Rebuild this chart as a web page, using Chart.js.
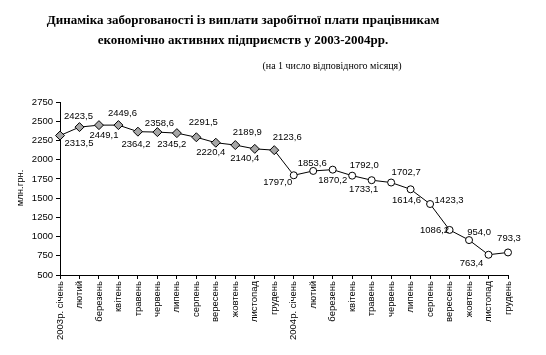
<!DOCTYPE html>
<html>
<head>
<meta charset="utf-8">
<script src="https://cdn.jsdelivr.net/npm/chart.js@4/dist/chart.umd.min.js"></script>
<style>
  html, body { margin: 0; padding: 0; background: #fff; }
  #wrap { width: 546px; height: 355px; }
</style>
</head>
<body>
<div id="wrap"><canvas id="c" width="546" height="355"></canvas></div>
<script>
const categories = [
  "2003р. січень", "лютий", "березень", "квітень", "травень", "червень",
  "липень", "серпень", "вересень", "жовтень", "листопад", "грудень",
  "2004р. січень", "лютий", "березень", "квітень", "травень", "червень",
  "липень", "серпень", "вересень", "жовтень", "листопад", "грудень"
];
const values2003 = [2313.5, 2423.5, 2449.1, 2449.6, 2364.2, 2358.6, 2345.2, 2291.5, 2220.4, 2189.9, 2140.4, 2123.6];
const values2004 = [1797.0, 1853.6, 1870.2, 1792.0, 1733.1, 1702.7, 1614.6, 1423.3, 1086.2, 954.0, 763.4, 793.3];
const yTicks = [500, 750, 1000, 1250, 1500, 1750, 2000, 2250, 2500, 2750];

const titleLines = [
  "Динаміка заборгованості із виплати заробітної плати працівникам",
  "економічно активних підприємств у 2003-2004рр."
];
const subtitleText = "(на 1 число відповідного місяця)";
const yAxisTitle = "млн.грн.";

// label offsets (dx, dy) relative to each point, in px
const labelOffsets = [
  [19, 8], [-1, -11], [5, 10], [4, -12], [-2, 13], [2, -9],
  [-5, 11], [7, -15], [-5, 10], [12, -13], [-10, 10], [13, -13],
  [-16, 7], [-1, -8], [0, 11], [12, -10], [-8, 9], [15, -10],
  [-4, 11], [19, -4], [-15, 0], [10, -8], [-17, 9], [1, -14]
];

const allValues = values2003.concat(values2004);
const pointStyles = allValues.map((v, i) => i < values2003.length ? 'rectRot' : 'circle');
const pointFills = allValues.map((v, i) => i < values2003.length ? '#a6a6a6' : '#ffffff');
const pointRadii = allValues.map((v, i) => i < values2003.length ? 4.5 : 3.5);

const sans = '"Liberation Sans", Arial, sans-serif';

function fmt(v) { return v.toFixed(1).replace('.', ','); }

const labelPlugin = {
  id: 'valueLabels',
  afterDatasetsDraw(chart) {
    const ctx = chart.ctx;
    const meta = chart.getDatasetMeta(0);
    ctx.save();
    ctx.font = '9.5px ' + sans;
    ctx.fillStyle = '#000';
    ctx.textAlign = 'center';
    ctx.textBaseline = 'middle';
    meta.data.forEach((el, i) => {
      const off = labelOffsets[i];
      ctx.fillText(fmt(allValues[i]), el.x + off[0], el.y + off[1]);
    });
    ctx.restore();
  }
};

const textPlugin = {
  id: 'titles',
  afterDraw(chart) {
    const ctx = chart.ctx;
    ctx.save();
    ctx.fillStyle = '#000';
    ctx.textAlign = 'center';
    ctx.textBaseline = 'middle';
    ctx.font = 'bold 13px "Liberation Serif", "Times New Roman", serif';
    ctx.fillText(titleLines[0], 243, 21);
    ctx.fillText(titleLines[1], 243, 41);
    ctx.font = '10px "Liberation Serif", "Times New Roman", serif';
    ctx.fillText(subtitleText, 332, 66);
    ctx.font = '9.5px ' + sans;
    ctx.translate(20, 188);
    ctx.rotate(-Math.PI / 2);
    ctx.fillText(yAxisTitle, 0, 0);
    ctx.restore();
  }
};

new Chart(document.getElementById('c'), {
  type: 'line',
  data: {
    labels: categories,
    datasets: [{
      data: allValues,
      borderColor: '#000',
      borderWidth: 1,
      tension: 0,
      fill: false,
      pointStyle: pointStyles,
      pointBackgroundColor: pointFills,
      pointBorderColor: '#000',
      pointBorderWidth: 1,
      pointRadius: pointRadii,
      clip: false
    }]
  },
  options: {
    responsive: false,
    animation: false,
    events: [],
    layout: { padding: { top: 102, right: 38, left: 0, bottom: 0 } },
    plugins: { legend: { display: false }, tooltip: { enabled: false }, title: { display: false } },
    scales: {
      x: {
        offset: false,
        grid: { display: true, drawOnChartArea: false, drawTicks: true, tickLength: 4, color: '#000', offset: false },
        border: { display: true, color: '#000', width: 1 },
        ticks: {
          autoSkip: false, maxRotation: 90, minRotation: 90, padding: 2,
          color: '#000', font: { family: sans, size: 9.5 }
        },
        afterFit(scale) { scale.height = 80; }
      },
      y: {
        min: 500, max: 2750,
        afterBuildTicks(scale) { scale.ticks = yTicks.map(v => ({ value: v })); },
        grid: { display: true, drawOnChartArea: false, drawTicks: true, tickLength: 4, color: '#000' },
        border: { display: true, color: '#000', width: 1 },
        ticks: {
          padding: 3, color: '#000',
          font: { family: sans, size: 9.5 },
          callback: (v) => String(v)
        },
        afterFit(scale) { scale.width = 60; }
      }
    }
  },
  plugins: [labelPlugin, textPlugin]
});
</script>
</body>
</html>
